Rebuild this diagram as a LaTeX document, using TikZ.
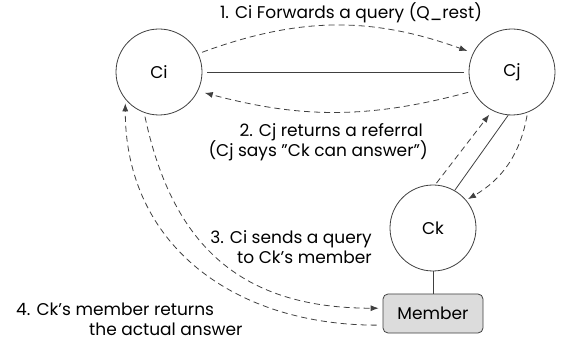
\documentclass[tikz,border=0pt]{standalone}
\usepackage{fontspec}
\setmainfont{Poppins}
\usetikzlibrary{arrows.meta}
\definecolor{ln}{HTML}{404040}
\definecolor{memfill}{HTML}{DCDCDC}
\tikzset{
  peer/.style={circle, draw=ln, line width=0.8pt, minimum size=86pt, inner sep=0pt, font=\fontsize{17}{19}\selectfont},
  memberbox/.style={rectangle, rounded corners=5pt, draw=ln, fill=memfill, line width=0.8pt, minimum width=100pt, minimum height=39pt, inner sep=0pt, font=\fontsize{17}{19}\selectfont},
  link/.style={draw=ln, line width=0.8pt},
  msg/.style={draw=ln, line width=0.8pt, dash pattern=on 6pt off 4pt, -{Latex[length=8pt,width=6pt]}},
  lbl/.style={inner sep=0pt, font=\fontsize{17}{20.5}\selectfont, text=black}
}
\begin{document}
\begin{tikzpicture}[x=1pt,y=1pt]
\useasboundingbox (0,0) rectangle (562,-347);
\node[peer] (Ci) at (159,-72) {Ci};
\node[peer] (Cj) at (512,-72) {Cj};
\node[peer] (Ck) at (433,-228) {Ck};
\node[memberbox] (M) at (433,-313.5) {Member};

\draw[link, shorten <=5pt, shorten >=5pt] (Ci) -- (Cj);
\draw[link] (Cj.-95) -- (Ck.60);
\draw[link] (Ck.south) -- (M.north);

\draw[msg, shorten <=4pt, shorten >=6pt] (Ci.25) to[bend left=20] (Cj.154);
\draw[msg, shorten <=5pt, shorten >=7pt] (Cj.206) to[bend left=15] (Ci.-26);
\draw[msg, shorten <=2pt, shorten >=5pt] (Ck.87) -- (Cj.-117);
\draw[msg, shorten <=3pt, shorten >=2pt] (Cj.-69) to[bend left=25] (Ck.40);
\draw[msg, shorten <=4pt, shorten >=4pt] (Ci.-110) to[out=-78, in=180, looseness=1.15] (M.174);
\draw[msg, shorten <=6pt, shorten >=4pt] (M.193) to[out=180, in=-90, looseness=1.1] (Ci.219);

\node[lbl] (t1) at (351,-13) {1. Ci Forwards a query (Q\_rest)};
\node[lbl, align=right, anchor=east] (t2) at (428,-142) {2. Cj returns a referral\hspace*{5pt}\\(Cj says \symbol{"22}Ck can answer\symbol{"22})};
\node[lbl, align=right, anchor=east] (t3) at (372,-247) {3. Ci sends a query\\to Ck’s member};
\node[lbl, align=left, anchor=west] (t4) at (16,-319.5) {4. Ck’s member returns\\\hspace*{73pt}the actual answer};
\end{tikzpicture}
\end{document}
